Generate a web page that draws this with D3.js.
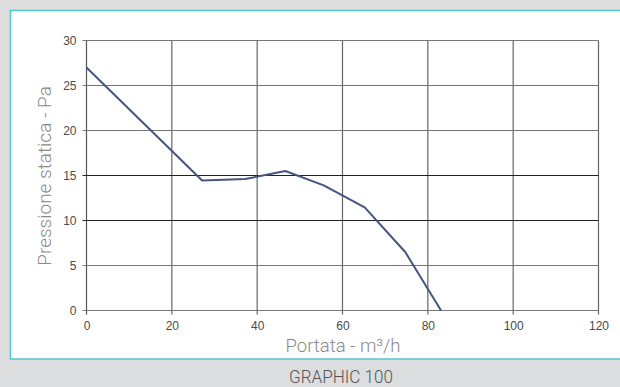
<!DOCTYPE html>
<html><head><meta charset="utf-8">
<script src="https://cdn.jsdelivr.net/npm/d3@7"></script>
<style>html,body{margin:0;padding:0;background:#dcdddf;}svg{display:block;}</style>
</head><body><svg id="c" width="620" height="387"></svg>
<script>
const flow = [0, 27.1, 37.2, 46.6, 55.6, 65.2, 74.7, 83.1];
const pressure = [27, 14.45, 14.6, 15.5, 13.9, 11.45, 6.5, 0];
const xTicks = [0, 20, 40, 60, 80, 100, 120];
const yTicks = [0, 5, 10, 15, 20, 25, 30];
const xTitle = "Portata - m³/h";
const yTitle = "Pressione statica - Pa";
const caption = "GRAPHIC 100";

const svg = d3.select("#c");
svg.append("rect").attr("x", 0).attr("y", 0).attr("width", 620).attr("height", 387).attr("fill", "#dcdddf");
svg.append("rect").attr("x", 10.5).attr("y", 10.5).attr("width", 620).attr("height", 348.5)
  .attr("fill", "#ffffff").attr("stroke", "#55c6ca").attr("stroke-width", 1.5);

const x = d3.scaleLinear().domain([0, 120]).range([86.5, 598.5]);
const y = d3.scaleLinear().domain([0, 30]).range([310.5, 40.5]);

// grid
const g = svg.append("g");
g.selectAll("line.v").data(xTicks).join("line")
  .attr("x1", d => x(d)).attr("x2", d => x(d)).attr("y1", y(30)).attr("y2", y(0) + 4)
  .attr("stroke", d => d === 0 ? "#555" : "#666").attr("stroke-width", 1.2);
g.selectAll("line.h").data(yTicks).join("line")
  .attr("y1", d => y(d)).attr("y2", d => y(d)).attr("x1", x(0) - 4).attr("x2", x(120))
  .attr("stroke", d => (d === 10 || d === 15) ? "#222" : "#777").attr("stroke-width", 1.2);

// axes labels via d3 axes
const xa = svg.append("g").attr("transform", `translate(0,${y(0)})`)
  .call(d3.axisBottom(x).tickValues(xTicks).tickSize(0).tickPadding(11));
const ya = svg.append("g").attr("transform", `translate(${x(0)},0)`)
  .call(d3.axisLeft(y).tickValues(yTicks).tickSize(0).tickPadding(10));
[xa, ya].forEach(a => {
  a.select(".domain").remove();
  a.selectAll("text").attr("font-family", "Liberation Sans, Arial, sans-serif")
    .attr("font-size", 12).attr("fill", "#4a4a4a");
});

// line
const line = d3.line().x((d, i) => x(flow[i])).y(d => y(d));
svg.append("path").datum(pressure).attr("d", line)
  .attr("fill", "none").attr("stroke", "#45557f").attr("stroke-width", 2).attr("stroke-linejoin", "round");

// titles
svg.append("text").attr("x", 343).attr("y", 352).attr("text-anchor", "middle")
  .attr("font-family", "Roboto, Liberation Sans, sans-serif").attr("font-weight", 300)
  .attr("font-size", 18.5).attr("fill", "#8a8a8a").text(xTitle);
svg.append("text").attr("transform", "translate(51,176) rotate(-90)").attr("text-anchor", "middle")
  .attr("font-family", "Roboto, Liberation Sans, sans-serif").attr("font-weight", 300)
  .attr("font-size", 19).attr("fill", "#8a8a8a").text(yTitle);
svg.append("text").attr("x", 341).attr("y", 383).attr("text-anchor", "middle")
  .attr("font-family", "Roboto, Liberation Sans, sans-serif").attr("font-weight", 300)
  .attr("font-size", 17.5).attr("textLength", 104).attr("lengthAdjust", "spacingAndGlyphs")
  .attr("fill", "#555").text(caption);
</script></body></html>
